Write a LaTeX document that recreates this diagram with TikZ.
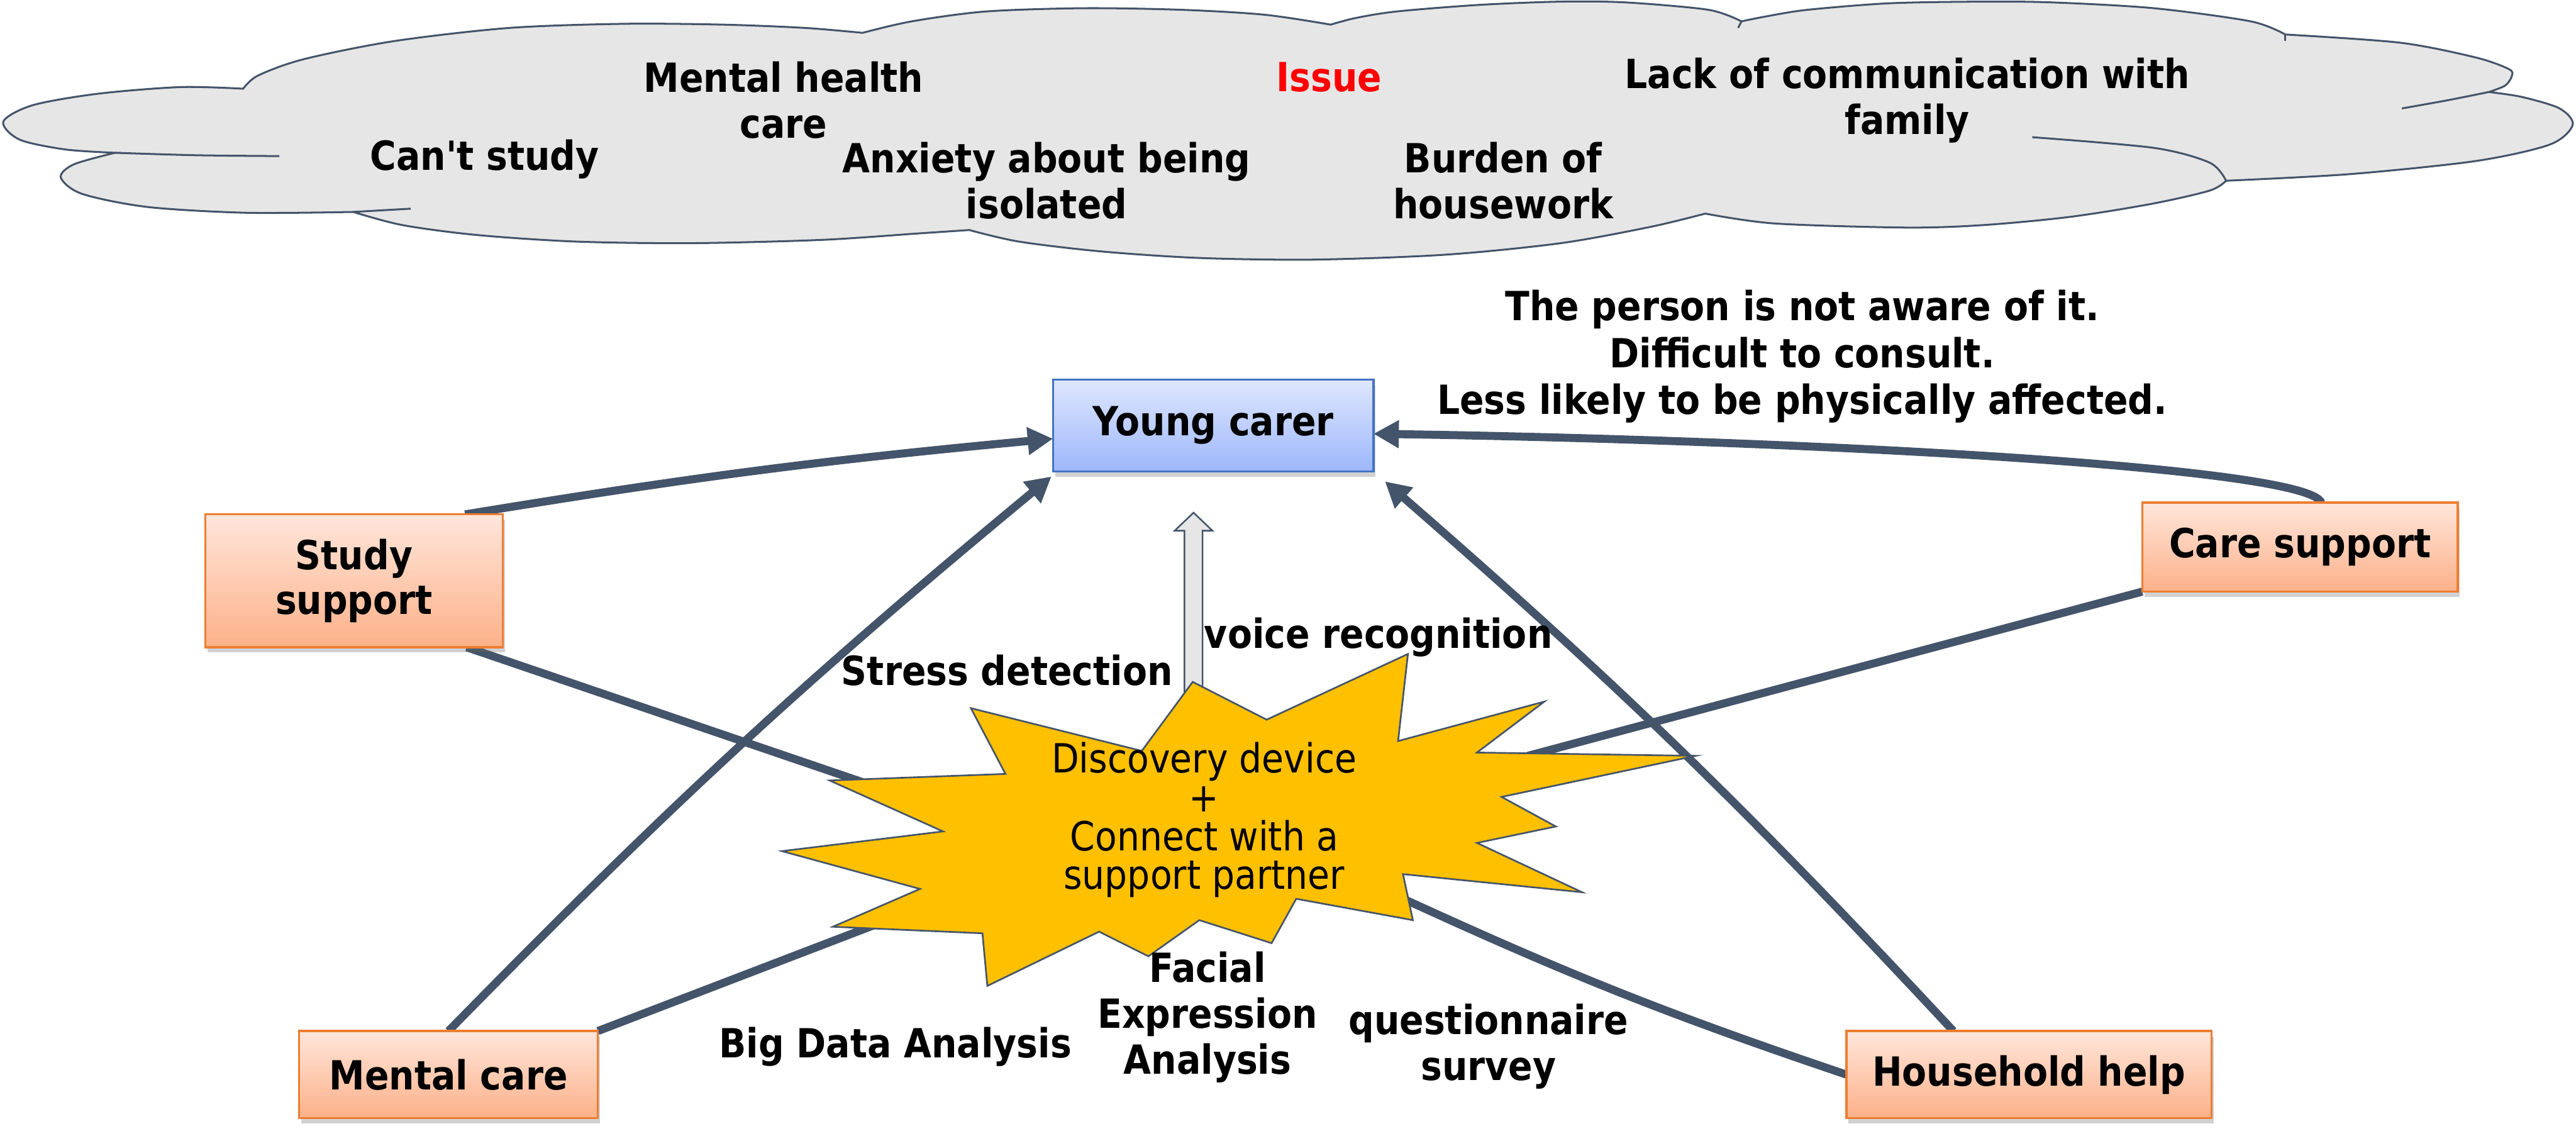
\documentclass[tikz,border=0pt]{standalone}
\usepackage{fontspec}
\setmainfont{DejaVu Sans}[FakeStretch=0.89, Ligatures=TeXOff]
\usepackage{tikz}
\usetikzlibrary{arrows.meta,positioning,calc,shadows,backgrounds}
\definecolor{slateLine}{HTML}{44546A}
\definecolor{cloudGray}{HTML}{E7E6E6}
\definecolor{boxEdge}{HTML}{ED7D31}
\definecolor{boxTop}{HTML}{FFE6DB}
\definecolor{boxBottom}{HTML}{FCB189}
\definecolor{carerEdge}{HTML}{4472C4}
\definecolor{carerTop}{HTML}{DFE7FE}
\definecolor{carerBottom}{HTML}{9CB7FA}
\definecolor{burstGold}{HTML}{FFC000}
\definecolor{issueRed}{HTML}{FF0000}

\begin{document}
\begin{tikzpicture}[
    x=0.02733cm, y=-0.02733cm,
    every node/.style={inner sep=0pt, outer sep=0pt},
    lbl/.style={font=\bfseries\fontsize{19}{21.8}\selectfont, align=center},
    box/.style={rectangle, draw=boxEdge, line width=1pt,
                top color=boxTop, bottom color=boxBottom,
                font=\bfseries\fontsize{19}{21}\selectfont, align=center,
                drop shadow={shadow xshift=1pt, shadow yshift=-2.5pt, opacity=0.3, fill=black!60}},
    carerbox/.style={box, draw=carerEdge, top color=carerTop, bottom color=carerBottom},
    link/.style={draw=slateLine, line width=3.8pt},
    arr/.style={link, -{Triangle[length=12pt,width=12.5pt]}},
    cloudline/.style={draw=slateLine, line width=0.9pt},
    burst/.style={draw=slateLine, line width=0.8pt, fill=burstGold, line join=miter},
    hollow/.style={draw=slateLine, line width=0.75pt, fill=cloudGray}
  ]
    \useasboundingbox (0,0) rectangle (1568,691);

    % boxes
    \node[carerbox, minimum width=5.33cm, minimum height=1.53cm] (carer) at (738.5,259) {Young carer};
    \node[box, minimum width=4.95cm, minimum height=2.21cm] (study) at (215.5,353.5) {Study\\support};
    \node[box, minimum width=4.97cm, minimum height=1.45cm] (mental) at (273,654) {Mental care};
    \node[box, minimum width=6.07cm, minimum height=1.45cm] (house) at (1235,654) {Household help};
    \node[box, minimum width=5.25cm, minimum height=1.48cm] (care) at (1400,333) {Care support};

    % free ends under the starburst
    \coordinate (sbStudy)  at (525,476);
    \coordinate (sbMental) at (540,560);
    \coordinate (sbHouse)  at (852,546);
    \coordinate (sbCare)   at (930,460);

    \begin{scope}[on background layer]
      % issue cloud
      \filldraw[cloudline, fill=cloudGray]
        plot[smooth] coordinates {(810,15) (770,9) (720,6) (660,5) (600,7) (555,13) (525,20)}
        -- plot[smooth] coordinates {(525,20) (490,17) (440,15) (380,14.5) (310,17) (240,25) (185,36) (157,46) (148,54)}
        -- plot[smooth] coordinates {(148,54) (110,53) (60,57) (20,64) (2,74) (12,85) (40,91) (70,93)}
        -- plot[smooth] coordinates {(70,93) (45,100) (37,108) (50,118) (90,126) (150,129.5) (215,129)}
        -- plot[smooth] coordinates {(215,129) (245,137) (290,143) (350,147) (420,148) (500,146) (560,142) (590,140)}
        -- plot[smooth] coordinates {(590,140) (620,147) (670,153) (730,157) (800,158) (880,155) (950,148) (1005,138) (1038,130)}
        -- plot[smooth] coordinates {(1038,130) (1080,136) (1160,138.5) (1207,137) (1260,132) (1310,124) (1345,116) (1355,110)}
        -- plot[smooth] coordinates {(1355,110) (1430,106) (1507,98) (1552,88) (1566,76) (1558,66) (1535,59) (1515,56)}
        -- plot[smooth] coordinates {(1515,56) (1525,52) (1529,46) (1527,42) (1507,35) (1461,26) (1391,21)}
        -- plot[smooth] coordinates {(1391,21) (1370,13) (1311,5) (1250,1.5) (1207,1) (1150,2) (1100,6) (1075,10) (1060,13)}
        -- plot[smooth] coordinates {(1060,13) (1040,6) (990,1.5) (950,1) (900,3) (850,7) (825,11) (810,15)}
        -- cycle;
      \draw[cloudline] plot[smooth] coordinates {(70,93) (120,94.5) (170,95)};
      \draw[cloudline] plot[smooth] coordinates {(215,129) (250,127)};
      \draw[cloudline] plot[smooth] coordinates {(1355,110) (1345,99) (1311,90) (1237,83.5)};
      \draw[cloudline] plot[smooth] coordinates {(1515,56) (1490,61) (1462,66)};
      \draw[cloudline] (1391,21) -- (1391,25);
      \draw[cloudline] (1060,13) -- (1058,17);

      % connectors
      \draw[arr] ($(study.north east)+(-23,0)$) to[bend left=2] ($(carer.west)+(0,8)$);
      \draw[link] ($(study.south east)+(-22,0)$) -- (sbStudy);
      \draw[arr] (mental.north) to[bend left=3] ($(carer.south west)+(-1,3)$);
      \draw[link] (mental.north east) -- (sbMental);
      \draw[arr] ($(house.north)+(-46,0)$) to[bend right=3] ($(carer.south east)+(7,6)$);
      \draw[link] (house.west) to[bend left=3] (sbHouse);
      \draw[arr] ($(care.north)+(13,0)$) .. controls +(-8,-22) and +(260,4) .. ($(carer.east)+(0,5)$);
      \draw[link] (care.south west) -- (sbCare);
    \end{scope}

    % cloud texts
    \node[lbl] (mhcare) at (477,61) {Mental health\\care};
    \node[lbl, text=issueRed] (issue) at (809,47) {Issue};
    \node[lbl] (lackcomm) at (1161,61) {Lack of communication with\\family};
    \node[lbl] (cantstudy) at (295,97) {Can't study};
    \node[lbl] (anxiety) at (637,110) {Anxiety about being\\isolated};
    \node[lbl] (burden) at (915,110) {Burden of\\housework};

    \node[lbl, font=\bfseries\fontsize{19}{22.2}\selectfont] (note) at (1097,217)
      {The person is not aware of it.\\Difficult to consult.\\Less likely to be physically affected.};

    % hollow up arrow
    \filldraw[hollow] (726.5,312) -- (738,323) -- (732,323) -- (732,430)
      -- (721,430) -- (721,323) -- (715,323) -- cycle;

    % discovery device
    \filldraw[burst] (726,415) -- (771,438) -- (857,398) -- (851,451) -- (940,427)
      -- (899,458) -- (1032,460) -- (914,485) -- (947,503) -- (899,513)
      -- (963,543) -- (854,532) -- (860,560) -- (789,547) -- (774,574)
      -- (730,560) -- (699,582) -- (669,567) -- (601,600) -- (598,568)
      -- (507,564) -- (560,541) -- (476,518) -- (574,506) -- (505,475)
      -- (612,471) -- (591,431) -- (695,457) -- cycle;
    \node[font=\fontsize{19}{18.4}\selectfont, align=center] (device) at (733,499)
      {Discovery device\\+\\Connect with a\\support partner};

    % method labels
    \node[lbl] (stress) at (613,408) {Stress detection};
    \node[lbl] (voice) at (839,388) {voice recognition};
    \node[lbl] (bigdata) at (545,637) {Big Data Analysis};
    \node[lbl] (facial) at (735,619) {Facial\\Expression\\Analysis};
    \node[lbl] (survey) at (906,637) {questionnaire\\survey};
  \end{tikzpicture}
\end{document}
